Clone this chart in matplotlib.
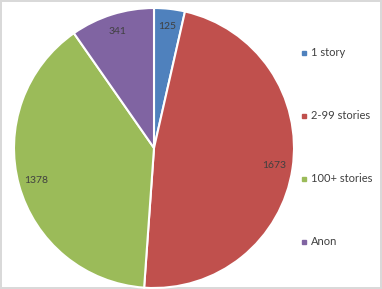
import matplotlib.pyplot as plt
from matplotlib.lines import Line2D

# datos
labels = ["1 story", "2-99 stories", "100+ stories", "Anon"]
values = [125, 1673, 1378, 341]
colors = ["#4F81BD", "#C0504D", "#9BBB59", "#8064A2"]

plt.rcParams['font.family'] = ['Lato', 'DejaVu Sans']

W, H = 382, 289
fig = plt.figure(figsize=(W/100, H/100), dpi=100, edgecolor="#D9D9D9", linewidth=1.5)

# pie axes, center (154,148) radius 140 px
cx, cy, r = 154, 148, 140
ax = fig.add_axes([(cx - r)/W, (H - cy - r)/H, 2*r/W, 2*r/H])
total = sum(values)
wedges, texts, autotexts = ax.pie(
    values, colors=colors, startangle=90, counterclock=False, radius=1,
    autopct=lambda p: f"{round(p*total/100)}", pctdistance=0.87,
    wedgeprops=dict(edgecolor="white", linewidth=1.5),
    textprops=dict(fontsize=7.5, color="#404040"))
ax.set_xlim(-1, 1)
ax.set_ylim(-1, 1)
ax.set_aspect("auto")
ax.axis("off")

# leyenda
h = [Line2D([], [], marker="s", linestyle="", markersize=3.5, color=c, label=l)
     for c, l in zip(colors, labels)]
fig.legend(handles=h, loc="upper left", bbox_to_anchor=(294/W, 1 - 43/H),
           frameon=False, fontsize=8, labelspacing=4.68, handletextpad=0.1,
           handlelength=1.0, borderaxespad=0, labelcolor="#404040")

fig.savefig("out.png", dpi=100)
